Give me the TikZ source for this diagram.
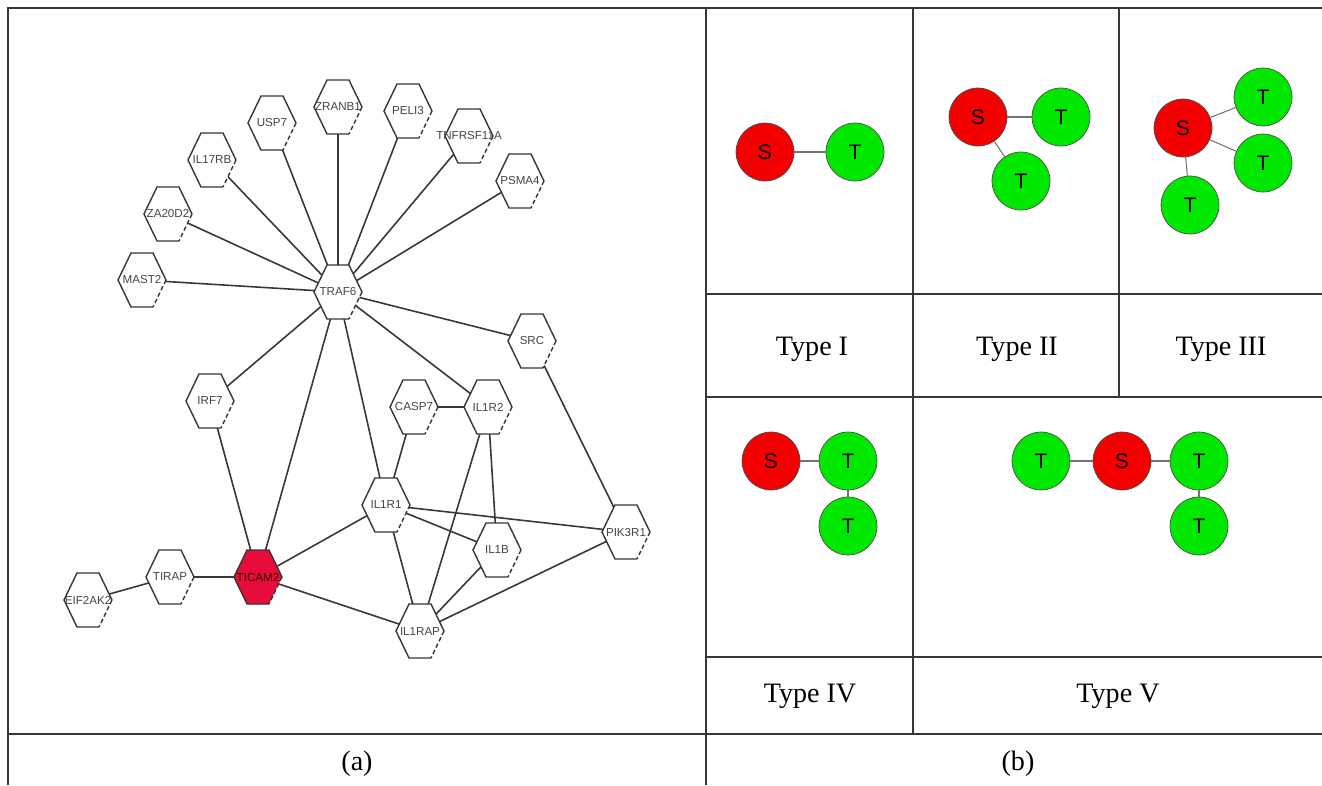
\documentclass[tikz,border=0pt]{standalone}
\usepackage{fontspec}
\setmainfont{Liberation Serif}
\newfontfamily\arialf{Liberation Sans}
\pgfdeclarelayer{bg}
\pgfdeclarelayer{mid}
\pgfsetlayers{bg,mid,main}
\definecolor{hexred}{RGB}{232,12,58}
\definecolor{sred}{RGB}{245,0,0}
\definecolor{tgreen}{RGB}{0,232,0}
\definecolor{lnc}{RGB}{55,55,55}
\definecolor{txtc}{RGB}{70,70,70}
\tikzset{
  hexlbl/.style={inner sep=0pt, font=\arialf\fontsize{6.6}{7}\selectfont, text=txtc},
  hexline/.style={draw=lnc, line width=0.8pt},
  gedge/.style={draw=lnc, line width=0.9pt},
  grid/.style={draw=lnc, line width=0.6pt},
  snode/.style={circle, draw=black!70, line width=0.4pt, fill=sred, minimum size=1.16cm, inner sep=0pt, font=\arialf\fontsize{12}{14}\selectfont},
  tnode/.style={circle, draw=black!70, line width=0.4pt, fill=tgreen, minimum size=1.16cm, inner sep=0pt, font=\arialf\fontsize{12}{14}\selectfont},
  medge/.style={draw=black!55, line width=0.6pt},
  typelbl/.style={font=\fontsize{16}{18}\selectfont, inner sep=0pt}
}
\newcommand\hexn[5][white]{%
  \node[hexlbl] (#2) at (#3,#4) {#5};
  \begin{pgfonlayer}{mid}
    \fill[#1] (#2.center) ++(-24,0) -- ++(13,-27) -- ++(22,0) -- ++(13,27) -- ++(-13,27) -- ++(-22,0) -- cycle;
    \draw[hexline] (#2.center) ++(11,27) -- ++(-22,0) -- ++(-13,-27) -- ++(13,-27) -- ++(22,0) -- ++(13,27);
    \draw[hexline, dashed, dash pattern=on 2.5pt off 1.5pt] (#2.center) ++(24,0) -- ++(-13,27);
  \end{pgfonlayer}}
\begin{document}
\begin{tikzpicture}[x=0.02cm, y=-0.02cm]
\useasboundingbox (0,0) rectangle (1322,785);
% table
\draw[grid] (8,785) -- (8,8) -- (1322,8);
\draw[grid] (706,8) -- (706,785);
\draw[grid] (8,734) -- (1322,734);
\draw[grid] (706,294) -- (1322,294);
\draw[grid] (706,397) -- (1322,397);
\draw[grid] (706,657) -- (1322,657);
\draw[grid] (913,8) -- (913,734);
\draw[grid] (1119,8) -- (1119,397);
% network nodes
\hexn{USP7}{272}{123}{USP7}
\hexn{ZRANB1}{338}{107}{ZRANB1}
\hexn{PELI3}{408}{111}{PELI3}
\hexn{TNF}{469}{136}{TNFRSF11A}
\hexn{PSMA4}{520}{181}{PSMA4}
\hexn{IL17RB}{212}{160}{IL17RB}
\hexn{ZA20D2}{168}{214}{ZA20D2}
\hexn{MAST2}{142}{280}{MAST2}
\hexn{TRAF6}{338}{292}{TRAF6}
\hexn{SRC}{532}{341}{SRC}
\hexn{IRF7}{210}{401}{IRF7}
\hexn{CASP7}{414}{407}{CASP7}
\hexn{IL1R2}{488}{407}{IL1R2}
\hexn{IL1R1}{386}{505}{IL1R1}
\hexn{IL1B}{497}{550}{IL1B}
\hexn{PIK3R1}{626}{532}{PIK3R1}
\hexn{TIRAP}{170}{577}{TIRAP}
\hexn[hexred]{TICAM2}{258}{577}{\textcolor{black!80!red}{TICAM2}}
\hexn{EIF2AK2}{88}{600}{EIF2AK2}
\hexn{IL1RAP}{420}{631}{IL1RAP}
% network edges
\begin{pgfonlayer}{bg}
\foreach \a in {USP7,ZRANB1,PELI3,TNF,PSMA4,IL17RB,ZA20D2,MAST2,SRC,IRF7,TICAM2,IL1R1,IL1R2}
  \draw[gedge] (TRAF6.center) -- (\a.center);
\draw[gedge] (SRC.center) -- (PIK3R1.center);
\draw[gedge] (IRF7.center) -- (TICAM2.center);
\draw[gedge] (TICAM2.center) -- (TIRAP.center);
\draw[gedge] (TICAM2.center) -- (IL1R1.center);
\draw[gedge] (TICAM2.center) -- (IL1RAP.center);
\draw[gedge] (TIRAP.center) -- (EIF2AK2.center);
\draw[gedge] (CASP7.center) -- (IL1R2.center);
\draw[gedge] (CASP7.center) -- (IL1R1.center);
\draw[gedge] (IL1R2.center) -- (IL1B.center);
\draw[gedge] (IL1R2.center) -- (IL1RAP.center);
\draw[gedge] (IL1R1.center) -- (IL1B.center);
\draw[gedge] (IL1R1.center) -- (PIK3R1.center);
\draw[gedge] (IL1R1.center) -- (IL1RAP.center);
\draw[gedge] (IL1B.center) -- (IL1RAP.center);
\draw[gedge] (PIK3R1.center) -- (IL1RAP.center);
\end{pgfonlayer}
% motifs
% Type I
\node[snode] (s1) at (765,152) {S};
\node[tnode] (t1a) at (855,152) {T};
\draw[medge] (s1) -- (t1a);
% Type II
\node[snode] (s2) at (978,117) {S};
\node[tnode] (t2a) at (1061,117) {T};
\node[tnode] (t2b) at (1021,181) {T};
\draw[medge] (s2) -- (t2a);
\draw[medge] (s2) -- (t2b);
% Type III
\node[snode] (s3) at (1183,128) {S};
\node[tnode] (t3a) at (1263,97) {T};
\node[tnode] (t3b) at (1263,163) {T};
\node[tnode] (t3c) at (1190,205) {T};
\draw[medge] (s3) -- (t3a);
\draw[medge] (s3) -- (t3b);
\draw[medge] (s3) -- (t3c);
% Type IV
\node[snode] (s4) at (771,461) {S};
\node[tnode] (t4a) at (848,461) {T};
\node[tnode] (t4b) at (848,526) {T};
\draw[medge] (s4) -- (t4a);
\draw[medge] (t4a) -- (t4b);
% Type V
\node[tnode] (t5a) at (1041,461) {T};
\node[snode] (s5) at (1122,461) {S};
\node[tnode] (t5b) at (1199,461) {T};
\node[tnode] (t5c) at (1199,526) {T};
\draw[medge] (t5a) -- (s5);
\draw[medge] (s5) -- (t5b);
\draw[medge] (t5b) -- (t5c);
% labels
\node[typelbl] (l1) at (812,349) {Type I};
\node[typelbl] (l2) at (1017,349) {Type II};
\node[typelbl] (l3) at (1221,349) {Type III};
\node[typelbl] (l4) at (810,696) {Type IV};
\node[typelbl] (l5) at (1118,696) {Type V};
\node[typelbl] (la) at (357,764) {(a)};
\node[typelbl] (lb) at (1018,764) {(b)};
\end{tikzpicture}
\end{document}
